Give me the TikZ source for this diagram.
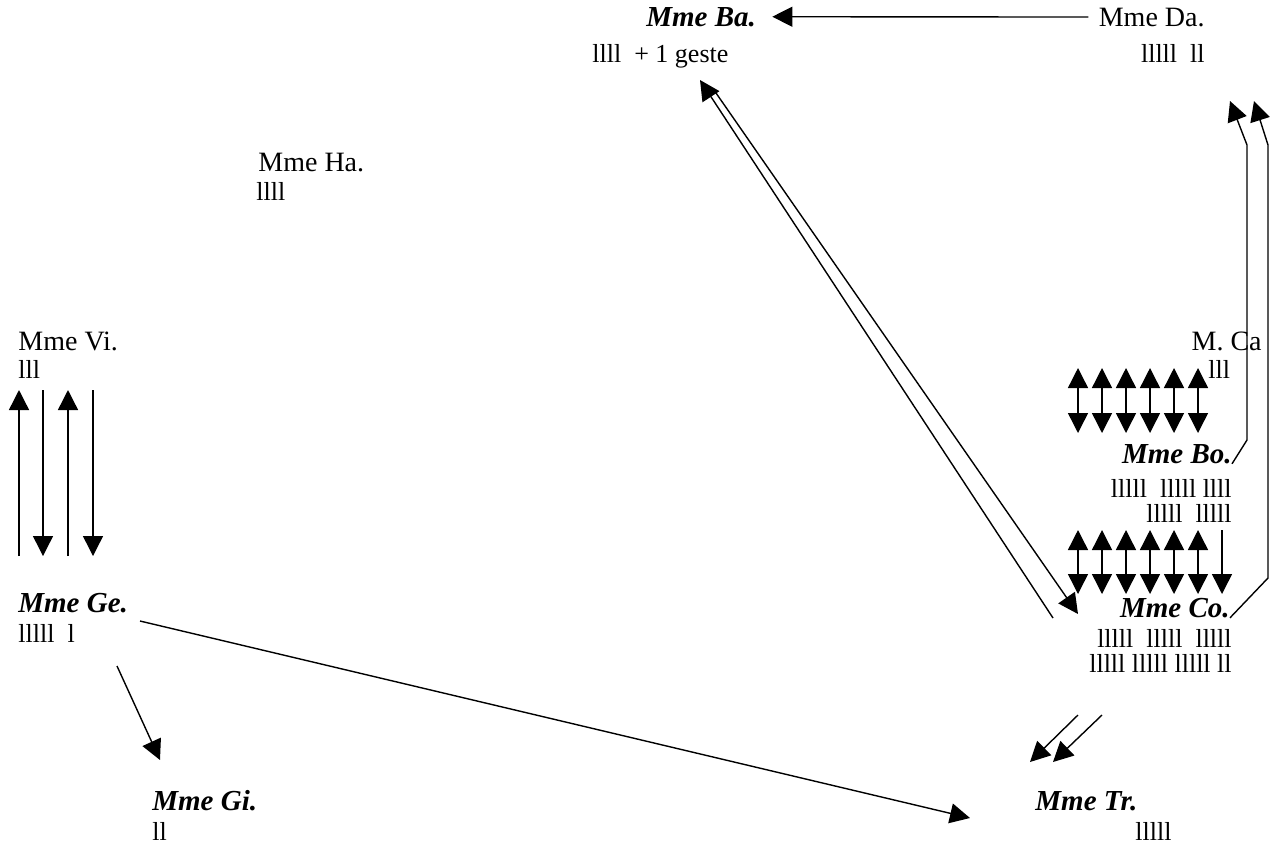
\documentclass[tikz,border=0pt]{standalone}
\usepackage{fontspec}
\setmainfont{Liberation Serif}
\usetikzlibrary{arrows.meta}

\tikzset{
  nom/.style={inner sep=0pt, font=\fontsize{14.5}{16}\selectfont\bfseries\itshape},
  nomsimple/.style={inner sep=0pt, font=\fontsize{14}{16}\selectfont},
  traits/.style={inner sep=0pt, font=\fontsize{13}{14}\selectfont},
  fleche/.style={line width=0.7pt, -{Triangle[length=10pt,width=10pt]}},
  aller retour/.style={line width=0.7pt, {Triangle[length=10pt,width=10pt]}-{Triangle[length=10pt,width=10pt]}},
}

\begin{document}
\begin{tikzpicture}[x=0.5pt,y=-0.5pt]
\useasboundingbox (0,0) rectangle (1270,843);

% les personnes
\node[nom, anchor=base west] (ba) at (646,26) {Mme Ba.};
\node[traits, anchor=base west] (ba t) at (592,62) {llll\ \ + 1 geste};
\node[nomsimple, anchor=base east] (da) at (1205,26) {Mme Da.};
\node[traits, anchor=base east] (da t) at (1205,62) {lllll\ \ ll};
\node[nomsimple, anchor=base west] (ha) at (258,171) {Mme Ha.};
\node[traits, anchor=base west] (ha t) at (256,200) {llll};
\node[nomsimple, anchor=base west] (vi) at (18,350) {Mme Vi.};
\node[traits, anchor=base west] (vi t) at (18,378) {lll};
\node[nomsimple, anchor=base east] (ca) at (1262,350) {M. Ca};
\node[traits, anchor=base west] (ca t) at (1208,378) {lll};
\node[nom, anchor=base east] (bo) at (1232,463) {Mme Bo.};
\node[traits, anchor=base east] (bo t1) at (1232,497) {lllll\ \ lllll llll};
\node[traits, anchor=base east] (bo t2) at (1232,522) {lllll\ \ lllll};
\node[nom, anchor=base east] (co) at (1230,617) {Mme Co.};
\node[traits, anchor=base east] (co t1) at (1232,647) {lllll\ \ lllll\ \ lllll};
\node[traits, anchor=base east] (co t2) at (1232,672) {lllll lllll lllll ll};
\node[nom, anchor=base west] (ge) at (18,612) {Mme Ge.};
\node[traits, anchor=base west] (ge t) at (18,642) {lllll\ \ l};
\node[nom, anchor=base west] (gi) at (152,810) {Mme Gi.};
\node[traits, anchor=base west] (gi t) at (152,840) {ll};
\node[nom, anchor=base west] (tr) at (1035,810) {Mme Tr.};
\node[traits, anchor=base west] (tr t) at (1135,840) {lllll};

% bouts libres des fleches
\coordinate (ba pied) at (700,80);
\coordinate (ba depart) at (716,93);
\coordinate (co pied) at (1078,614);
\coordinate (co depart) at (1053,618);
\coordinate (da pied1) at (1230,101);
\coordinate (da pied2) at (1254,101);
\coordinate (ge depart) at (140,621);
\coordinate (ge depart2) at (117,666);
\coordinate (gi pied) at (160,760);
\coordinate (tr pied) at (970,818);

% Da vers Ba
\draw[fleche] ([xshift=-5]da.west) -- ([xshift=8]ba.east);

% Vi et Ge
\foreach \x in {19,68}{
  \draw[fleche] (\x,556) -- (\x,390);
}
\foreach \x in {43,93}{
  \draw[fleche] (\x,390) -- (\x,556);
}

% Ca, Bo, Co
\foreach \i in {0,...,5}{
  \draw[aller retour] (1078+24*\i,368) -- (1078+24*\i,433);
  \draw[aller retour] (1078+24*\i,530) -- (1078+24*\i,594);
}
\draw[fleche] (1222,530) -- (1222,594);

% Ba et Co
\draw[fleche] (co depart) -- (ba pied);
\draw[fleche] (ba depart) -- (co pied);

% vers Da
\draw[fleche] (bo.south east) -- (1247,440) -- (1247,145) -- (da pied1);
\draw[fleche] (co.south east) -- (1268,578) -- (1268,145) -- (da pied2);

% vers Tr et Gi
\draw[fleche] (1078,715) -- (1030,762);
\draw[fleche] (1102,715) -- (1053,762);
\draw[fleche] (ge depart) -- (tr pied);
\draw[fleche] (ge depart2) -- (gi pied);
\end{tikzpicture}
\end{document}
